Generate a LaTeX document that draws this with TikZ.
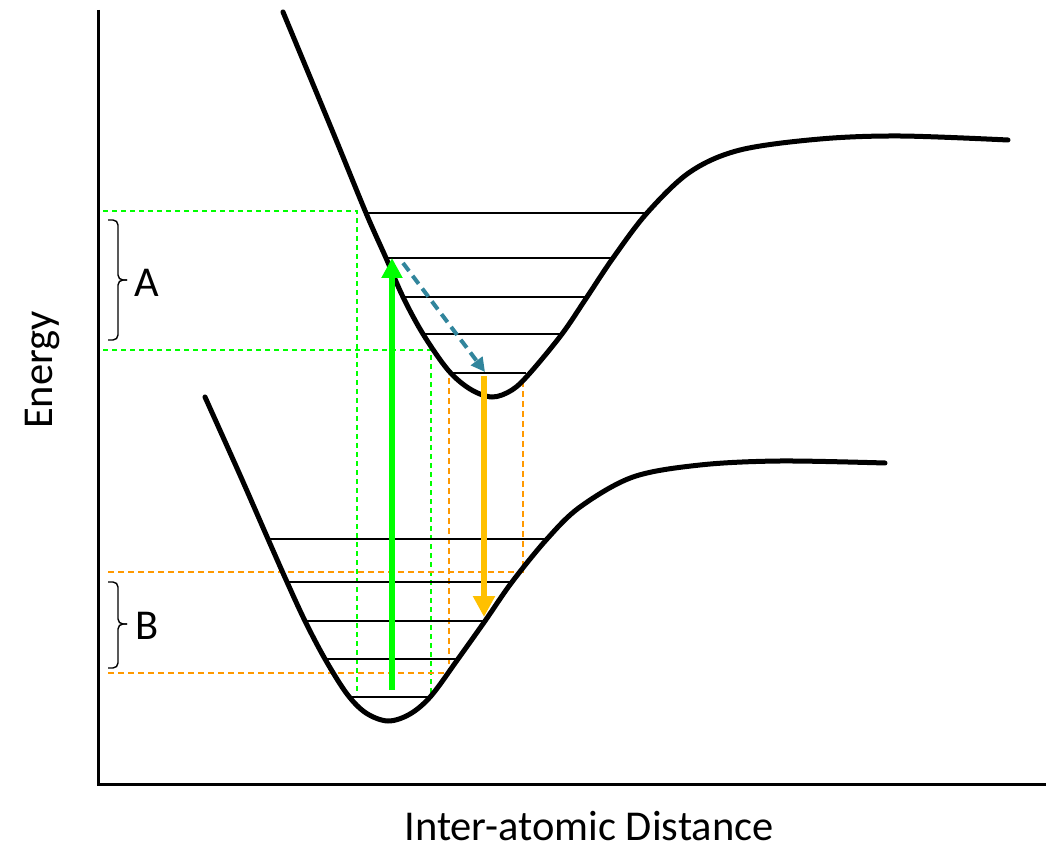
\documentclass[tikz,border=0pt]{standalone}
\usepackage{fontspec}
\setmainfont{Carlito}
\usepackage{xcolor}
\usepackage{tikz}
\usetikzlibrary{arrows.meta}
\definecolor{absgreen}{RGB}{0,255,0}
\definecolor{emorange}{RGB}{255,192,0}
\definecolor{guideorange}{RGB}{255,153,0}
\definecolor{relaxteal}{RGB}{49,133,156}

\begin{document}
\begin{tikzpicture}[x=1pt,y=-1pt,
  well/.style={line width=5pt,line cap=round},
  level/.style={line width=2.2pt},
  guidegreen/.style={absgreen,line width=1.4pt,dash pattern=on 5pt off 4pt},
  guideorng/.style={guideorange,line width=1.6pt,dash pattern=on 6pt off 4pt},
  bracelbl/.style={line width=1.4pt,rounded corners=5pt},
  every node/.style={font=\fontsize{42.5}{46}\selectfont}]
  \useasboundingbox (0,0) rectangle (1058,850);
  \draw[line width=3pt] (98,10) -- (98,784) -- (1046,784);
  \node[rotate=90] (yaxis) at (43,370) {Energy};
  \node (xaxis) at (589,826) {Inter-atomic Distance};
  % guide lines
  \draw[guidegreen] (103,211) -| (357,695);
  \draw[guidegreen] (103,350) -| (431,695);
  \draw[guideorng] (108,572) -| (523,378);
  \draw[guideorng] (108,673) -| (449,372);
  % vibrational levels
  \foreach \y/\xa/\xb in {213/366/646,258/386/612,297/403/586,334/423/562,373/450/526}
    \draw[level] (\xa,\y) -- (\xb,\y);
  \foreach \y/\xa/\xb in {539/268/547,582/287/510,621/305/485,659/323/458,697/350/429}
    \draw[level] (\xa,\y) -- (\xb,\y);
  % potential wells
  \draw[well] plot[smooth,tension=0.55] coordinates {(283,12) (332,130) (366,213) (386,258) (403,297)
    (423,334) (448,370) (470,389) (492,397) (512,390) (530,373) (562,334) (587,297) (613,258) (647,213) (690,172)
    (740,150) (820,139) (900,136) (1008,140)};
  \draw[well] plot[smooth,tension=0.55] coordinates {(205,397) (240,475) (268,539) (287,582) (305,621)
    (325,659) (347,694) (366,713) (388,721) (410,714) (431,696) (458,659) (485,621) (512,582) (547,539) (580,507)
    (633,477) (700,465) (780,461) (885,463)};
  % braces
  \draw[bracelbl] (108,220) -- (118,220) -- (118,280) -- (127,280);
  \draw[bracelbl] (127,280) -- (118,280) -- (118,340) -- (108,340);
  \node (A) at (147,283) {A};
  \draw[bracelbl] (108,582) -- (118,582) -- (118,624) -- (127,624);
  \draw[bracelbl] (127,624) -- (118,624) -- (118,668) -- (108,668);
  \node (B) at (147,626) {B};
  % transitions
  \coordinate (absfrom) at (392,690);
  \coordinate (absto) at (392,258);
  \coordinate (relaxfrom) at (403,263);
  \coordinate (relaxto) at (485,372);
  \coordinate (emfrom) at (484,376);
  \coordinate (emto) at (484,617);
  \draw[absgreen,line width=6pt,-{Triangle[length=20pt,width=20pt]}] (absfrom) -- (absto);
  \draw[relaxteal,line width=4pt,dash pattern=on 10pt off 6pt,-{Triangle[length=14pt,width=14pt]}] (relaxfrom) -- (relaxto);
  \draw[emorange,line width=6pt,-{Triangle[length=21pt,width=21pt]}] (emfrom) -- (emto);
\end{tikzpicture}
\end{document}
